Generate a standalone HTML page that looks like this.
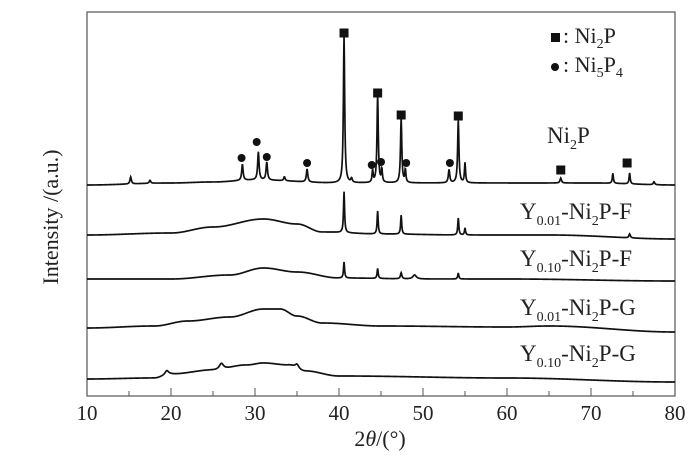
<!DOCTYPE html>
<html><head><meta charset="utf-8"><style>
html,body{margin:0;padding:0;background:#fff;}
svg{display:block;font-family:"Liberation Serif",serif;}
</style></head><body>
<svg id="chart" width="700" height="455" viewBox="0 0 700 455" xmlns="http://www.w3.org/2000/svg">
<rect x="87" y="12" width="588" height="384" fill="none" stroke="#555" stroke-width="1.2"/>
<g id="ticks"></g>
<g id="curves"></g>
<g id="markers"></g>
<text transform="translate(58,217) rotate(-90)" text-anchor="middle" font-size="22" fill="#222">Intensity /(a.u.)</text>
<text x="380" y="446" text-anchor="middle" font-size="22" fill="#222">2<tspan font-style="italic">θ</tspan>/(°)</text>
<g font-size="22" fill="#222">
<rect x="551" y="33" width="9" height="9" fill="#111"/>
<text x="563" y="43">: Ni<tspan font-size="14" dy="5">2</tspan><tspan dy="-5">P</tspan></text>
<circle cx="555" cy="67" r="4" fill="#111"/>
<text x="563" y="72">: Ni<tspan font-size="14" dy="5">5</tspan><tspan dy="-5">P</tspan><tspan font-size="14" dy="5">4</tspan></text>
</g>
<g font-size="23" fill="#222">
<text x="547" y="143">Ni<tspan font-size="14" dy="6">2</tspan><tspan dy="-6">P</tspan></text>
<text x="520" y="219">Y<tspan font-size="14" dy="6">0.01</tspan><tspan dy="-6">-Ni</tspan><tspan font-size="14" dy="6">2</tspan><tspan dy="-6">P-F</tspan></text>
<text x="520" y="266">Y<tspan font-size="14" dy="6">0.10</tspan><tspan dy="-6">-Ni</tspan><tspan font-size="14" dy="6">2</tspan><tspan dy="-6">P-F</tspan></text>
<text x="520" y="315">Y<tspan font-size="14" dy="6">0.01</tspan><tspan dy="-6">-Ni</tspan><tspan font-size="14" dy="6">2</tspan><tspan dy="-6">P-G</tspan></text>
<text x="520" y="361">Y<tspan font-size="14" dy="6">0.10</tspan><tspan dy="-6">-Ni</tspan><tspan font-size="14" dy="6">2</tspan><tspan dy="-6">P-G</tspan></text>
</g>
</svg>
<script>
const xTicks=[10,20,30,40,50,60,70,80];
const xMinor=[15,25,35,45,55,65,75];
const base1=[[10,211],[20,213],[25,214],[30,216],[40,213],[50,213],[60,213],[70,213],[80,211]];
const peaks1=[[15.2,7,0.2],[17.5,3,0.2],[28.5,16,0.2],[30.4,28,0.2],[31.4,18,0.2],[33.5,4,0.2],[36.2,13,0.2],[40.6,148,0.18],[41.5,4,0.2],[44.0,12,0.15],[44.6,88,0.18],[45.1,13,0.15],[47.4,65,0.18],[47.9,13,0.15],[53.1,13,0.2],[54.2,63,0.18],[55.0,20,0.15],[66.4,5,0.2],[72.6,10,0.15],[74.6,11,0.15],[77.5,3,0.2]];
const base2=[[10,161],[20,163],[25,169],[31,177],[35,172],[38,164],[45,162],[55,161],[65,161],[80,157]];
const peaks2=[[40.6,41,0.15],[44.6,23,0.15],[47.4,19,0.15],[54.2,17,0.15],[55.0,7,0.15],[74.6,4,0.2]];
const base3=[[10,117],[20,117],[27,121],[31,128],[35,124],[40,118],[50,117],[60,117],[80,115]];
const peaks3=[[40.6,16,0.15],[44.6,10,0.15],[47.4,6,0.2],[49.0,4,0.5],[54.2,6,0.15]];
const base4=[[10,68],[18,70],[22,75],[27,79],[31,87],[33,87],[35,80],[38,73],[45,70],[60,69],[65,70],[80,64]];
const peaks4=[];
const base5=[[10,17],[18,18],[20,22],[25,26],[29,31],[31,33],[34,31],[36,25],[40,20],[60,18],[80,14]];
const peaks5=[[19.5,4,0.5],[26.0,6,0.6],[35.0,4,0.5]];
const squares=[[40.6,363],[44.6,303],[47.4,281],[54.2,280],[66.4,226],[74.3,233]];
const circles=[[28.4,238],[30.2,254],[31.4,239],[36.2,233],[43.9,231],[45.0,234],[48.0,233],[53.2,233]];

const NS="http://www.w3.org/2000/svg";
const X0=87,X1=675,Y0=396;
function xs(d){return X0+(d-10)/(80-10)*(X1-X0);}
function ys(v){return Y0-v;}
function baseAt(b,d){for(let i=0;i<b.length-1;i++){if(d<=b[i+1][0]){const t=(d-b[i][0])/(b[i+1][0]-b[i][0]);const s=(1-Math.cos(Math.PI*t))/2;return b[i][1]+(b[i+1][1]-b[i][1])*s;}}return b[b.length-1][1];}
function val(b,p,d){let v=baseAt(b,d);for(const q of p){const z=(d-q[0])/q[2];v+=q[1]/(1+z*z*4);}return v;}
const tg=document.getElementById('ticks');
xTicks.forEach(t=>{
 const l=document.createElementNS(NS,'line');
 
 
 l.setAttribute('x1',xs(t));l.setAttribute('x2',xs(t));l.setAttribute('y1',Y0);l.setAttribute('y2',Y0-8);l.setAttribute('stroke','#555');tg.appendChild(l);
 const tx=document.createElementNS(NS,'text');
 
 
 tx.setAttribute('x',xs(t));tx.setAttribute('y',420);tx.setAttribute('text-anchor','middle');tx.setAttribute('font-size','21');tx.setAttribute('fill','#222');tx.textContent=t;tg.appendChild(tx);
});
xMinor.forEach(t=>{
 const l=document.createElementNS(NS,'line');
 
 
 l.setAttribute('x1',xs(t));l.setAttribute('x2',xs(t));l.setAttribute('y1',Y0);l.setAttribute('y2',Y0-5);l.setAttribute('stroke','#555');tg.appendChild(l);
});
const cg=document.getElementById('curves');
const series=[['curve-ni2p',base1,peaks1],['curve-y001-f',base2,peaks2],['curve-y010-f',base3,peaks3],['curve-y001-g',base4,peaks4],['curve-y010-g',base5,peaks5]];
series.forEach(s=>{
 let d='';
 for(let a=10;a<=80.0001;a+=0.04){d+=(d?'L':'M')+xs(a).toFixed(2)+','+ys(val(s[1],s[2],a)).toFixed(2);}
 const p=document.createElementNS(NS,'path');
 
 
 p.setAttribute('d',d);p.setAttribute('fill','none');p.setAttribute('stroke','#111');p.setAttribute('stroke-width','1.7');cg.appendChild(p);
});
const mg=document.getElementById('markers');
squares.forEach(m=>{
 const r=document.createElementNS(NS,'rect');
 
 
 r.setAttribute('x',xs(m[0])-4.5);r.setAttribute('y',ys(m[1])-4.5);r.setAttribute('width',9);r.setAttribute('height',9);r.setAttribute('fill','#111');mg.appendChild(r);
});
circles.forEach(m=>{
 const c=document.createElementNS(NS,'circle');
 
 
 c.setAttribute('cx',xs(m[0]));c.setAttribute('cy',ys(m[1]));c.setAttribute('r',4);c.setAttribute('fill','#111');mg.appendChild(c);
});
</script>
</body></html>
